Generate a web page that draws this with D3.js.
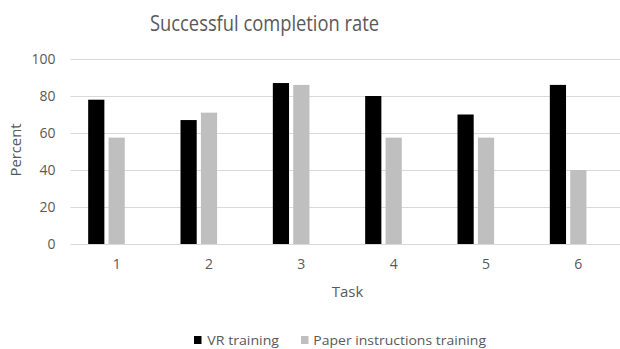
<!DOCTYPE html>
<html>
<head>
<meta charset="utf-8">
<script src="https://cdn.jsdelivr.net/npm/d3@7"></script>
<style>
  html, body { margin: 0; padding: 0; background: #fff; }
  svg { display: block; }
  text { font-family: "Open Sans", sans-serif; fill: #595959; }
</style>
</head>
<body>
<svg id="chart" width="620" height="349"></svg>
<script>
const tasks = ["1", "2", "3", "4", "5", "6"];
const vrTraining = [78, 67, 87, 80, 70, 86];
const paperTraining = [57.5, 71, 86, 57.5, 57.5, 40];
const seriesNames = ["VR training", "Paper instructions training"];
const seriesColors = ["#000000", "#bfbfbf"];
const yTicks = [0, 20, 40, 60, 80, 100];

const svg = d3.select("#chart");
const W = 620, H = 349;

const x = d3.scaleBand().domain(tasks).range([70.5, 624.5]).paddingInner(0).paddingOuter(0);
const y = d3.scaleLinear().domain([0, 100]).range([244, 59]);

const barW = 16.2, barGap = 4.2;

// gridlines
svg.append("g")
  .selectAll("line")
  .data(yTicks)
  .join("line")
  .attr("x1", 70.5).attr("x2", W)
  .attr("y1", d => Math.round(y(d)) + 0.5)
  .attr("y2", d => Math.round(y(d)) + 0.5)
  .attr("stroke", "#d9d9d9")
  .attr("stroke-width", 1);

// y axis labels
const yAxis = d3.axisLeft(y).tickValues(yTicks).tickSize(0).tickPadding(0);
const gy = svg.append("g").attr("transform", "translate(55.5,0.5)").call(yAxis);
gy.select(".domain").remove();
gy.selectAll("text").attr("font-size", 14).attr("fill", "#595959")
  .attr("font-family", "Open Sans, sans-serif");

// x axis labels
const xAxis = d3.axisBottom(x).tickSize(0).tickPadding(0);
const gx = svg.append("g").attr("transform", "translate(0,259.5)").call(xAxis);
gx.select(".domain").remove();
gx.selectAll("text").attr("font-size", 14).attr("fill", "#595959")
  .attr("font-family", "Open Sans, sans-serif");

// bars
const series = [vrTraining, paperTraining];
series.forEach((vals, si) => {
  svg.append("g")
    .selectAll("rect")
    .data(vals)
    .join("rect")
    .attr("x", (d, i) => x(tasks[i]) + x.bandwidth() / 2 - barW / 2 - (1 - si) * (barW + barGap))
    .attr("y", d => y(d))
    .attr("width", barW)
    .attr("height", d => y(0) - y(d))
    .attr("fill", seriesColors[si]);
});

// title
svg.append("text")
  .attr("x", 264.5).attr("y", 31)
  .attr("text-anchor", "middle")
  .attr("font-size", 22)
  .attr("textLength", 229).attr("lengthAdjust", "spacingAndGlyphs")
  .text("Successful completion rate");

// y title
svg.append("text")
  .attr("transform", "translate(20.5,150) rotate(-90)")
  .attr("text-anchor", "middle")
  .attr("font-size", 14)
  .attr("textLength", 53).attr("lengthAdjust", "spacingAndGlyphs")
  .text("Percent");

// x title
svg.append("text")
  .attr("x", 347.5).attr("y", 296.5)
  .attr("text-anchor", "middle")
  .attr("font-size", 15)
  .attr("textLength", 31.5).attr("lengthAdjust", "spacingAndGlyphs")
  .text("Task");

// legend
const legend = [
  { name: seriesNames[0], color: seriesColors[0], sx: 194, tx: 207.3, tw: 71.7 },
  { name: seriesNames[1], color: seriesColors[1], sx: 301, tx: 313.3, tw: 172.7 }
];
const lg = svg.append("g");
legend.forEach(l => {
  lg.append("rect").attr("x", l.sx).attr("y", 336).attr("width", 7.5).attr("height", 8).attr("fill", l.color);
  lg.append("text").attr("x", l.tx).attr("y", 345).attr("font-size", 13.5)
    .attr("textLength", l.tw).attr("lengthAdjust", "spacingAndGlyphs")
    .text(l.name);
});
</script>
</body>
</html>
